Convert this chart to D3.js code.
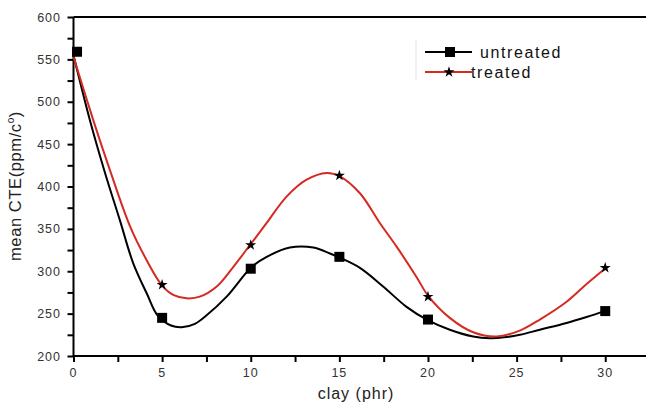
<!DOCTYPE html>
<html>
<head>
<meta charset="utf-8">
<script src="https://cdn.jsdelivr.net/npm/d3@7"></script>
<style>
  body { margin: 0; background: #fff; }
  text { font-family: "Liberation Sans", Arial, sans-serif; }
</style>
</head>
<body>
<div id="chart"></div>
<script>
// curve points (clay phr, mean CTE)
const untreatedCurveX = [0, 0.93, 1.78, 2.62, 3.36, 4.13, 4.77, 5.5, 6.10, 6.85, 7.51, 8.64, 10.05, 10.9, 12.21, 13.53, 14.47, 15.03, 16.16, 17.47, 18.79, 20.01, 21.23, 22.55, 23.49, 24.3, 25.18, 26.31, 27.82, 28.95, 29.98];
const untreatedCurveY = [555, 478, 416, 360, 310, 274, 247, 236, 234, 238, 248, 270, 305, 317, 328, 328, 321, 316, 304, 282, 258, 242, 231, 223, 221, 222, 225, 231, 239, 246, 253];
const treatedCurveX = [0, 1.12, 2.06, 3.19, 4.13, 4.97, 5.63, 6.38, 7.13, 8.08, 9.01, 9.96, 10.9, 12.02, 13.15, 14.28, 15.03, 16.16, 17.28, 18.23, 19.36, 20.01, 21.23, 22.55, 23.87, 25.18, 26.31, 27.82, 28.95, 29.98];
const treatedCurveY = [553, 478, 419, 353, 313, 284, 272, 268, 270, 282, 305, 331, 357, 388, 408, 416, 412, 392, 357, 329, 293, 271, 245, 228, 223, 230, 243, 264, 285, 303];

// marker positions
const untreatedX = [0.2, 5, 10, 15, 20, 30];
const untreatedY = [559, 245, 303, 317, 243, 253];
const treatedX = [5, 10, 15, 20, 30];
const treatedY = [284, 331, 413, 270, 304];

const xTicks = [0, 5, 10, 15, 20, 25, 30];
const yTicks = [200, 250, 300, 350, 400, 450, 500, 550, 600];

const svgWidth = 646;
const svgHeight = 405;
const redColor = "#d42a22";

const svg = d3.select("#chart")
    .append("svg")
    .attr("width", svgWidth)
    .attr("height", svgHeight);

const x = d3.scaleLinear().domain([0, 32.3]).range([73.5, 646]);
const y = d3.scaleLinear().domain([200, 600]).range([356, 17]);

// top border
svg.append("line")
    .attr("x1", x(0)).attr("x2", svgWidth)
    .attr("y1", y(600)).attr("y2", y(600))
    .attr("stroke", "#000").attr("stroke-width", 2);

// x axis with minor ticks
const xAxis = svg.append("g")
    .attr("transform", `translate(0, ${y(200)})`)
    .call(d3.axisBottom(x).tickValues(d3.range(0, 32.6, 2.5)).tickSize(6).tickFormat(""));
xAxis.select(".domain").attr("stroke-width", 2).attr("d", `M${x(0)},0H${svgWidth}`);
xAxis.selectAll(".tick line").attr("stroke-width", 2);
svg.append("g").selectAll("text")
    .data(xTicks)
    .enter()
    .append("text")
    .attr("x", d => x(d))
    .attr("y", 377)
    .attr("text-anchor", "middle")
    .attr("font-size", 12.5)
    .attr("letter-spacing", 1)
    .attr("fill", "#333")
    .text(d => d);

// y axis with minor ticks
const yAxis = svg.append("g")
    .attr("transform", `translate(${x(0)}, 0)`)
    .call(d3.axisLeft(y).tickValues(d3.range(200, 601, 25)).tickSize(6).tickFormat(""));
yAxis.select(".domain").attr("stroke-width", 2).attr("d", `M0,${y(600)}V${y(200)}`);
yAxis.selectAll(".tick line").attr("stroke-width", 2);
svg.append("g").selectAll("text")
    .data(yTicks)
    .enter()
    .append("text")
    .attr("x", 61)
    .attr("y", d => y(d) + 4.5)
    .attr("text-anchor", "end")
    .attr("font-size", 12.5)
    .attr("letter-spacing", 1)
    .attr("fill", "#333")
    .text(d => d);

// axis titles
svg.append("text")
    .attr("x", 356)
    .attr("y", 399)
    .attr("text-anchor", "middle")
    .attr("font-size", 16)
    .attr("letter-spacing", 1)
    .attr("fill", "#222")
    .text("clay (phr)");

const yTitle = svg.append("text")
    .attr("transform", `translate(21, 186) rotate(-90)`)
    .attr("text-anchor", "middle")
    .attr("font-size", 16.5)
    .attr("letter-spacing", 0.6)
    .attr("fill", "#222");
yTitle.append("tspan").text("mean CTE(ppm/c");
yTitle.append("tspan").attr("dy", -7).attr("font-size", 10).text("o");
yTitle.append("tspan").attr("dy", 7).text(")");

// curves
const line = d3.line()
    .x(d => x(d[0]))
    .y(d => y(d[1]))
    .curve(d3.curveCatmullRom);

svg.append("path")
    .datum(untreatedCurveX.map((d, i) => [d, untreatedCurveY[i]]))
    .attr("d", line)
    .attr("fill", "none")
    .attr("stroke", "#000")
    .attr("stroke-width", 2);

svg.append("path")
    .datum(treatedCurveX.map((d, i) => [d, treatedCurveY[i]]))
    .attr("d", line)
    .attr("fill", "none")
    .attr("stroke", redColor)
    .attr("stroke-width", 2);

// markers
const star = d3.symbol().type(d3.symbolStar).size(38);
svg.append("g").selectAll("path")
    .data(treatedX.map((d, i) => [d, treatedY[i]]))
    .enter()
    .append("path")
    .attr("d", star)
    .attr("transform", d => `translate(${x(d[0])}, ${y(d[1])})`)
    .attr("fill", "#000");

svg.append("g").selectAll("rect")
    .data(untreatedX.map((d, i) => [d, untreatedY[i]]))
    .enter()
    .append("rect")
    .attr("x", d => x(d[0]) - 5)
    .attr("y", d => y(d[1]) - 5)
    .attr("width", 10)
    .attr("height", 10)
    .attr("fill", "#000");

// legend
const legend = svg.append("g");
legend.append("line")
    .attr("x1", 416).attr("x2", 416)
    .attr("y1", 40).attr("y2", 80)
    .attr("stroke", "#e2e2e2");
legend.append("line")
    .attr("x1", 425).attr("x2", 472)
    .attr("y1", 52).attr("y2", 52)
    .attr("stroke", "#000").attr("stroke-width", 2);
legend.append("rect")
    .attr("x", 445).attr("y", 47)
    .attr("width", 10).attr("height", 10)
    .attr("fill", "#000");
legend.append("text")
    .attr("x", 480).attr("y", 57.5)
    .attr("font-size", 16)
    .attr("letter-spacing", 1.6)
    .attr("fill", "#111")
    .text("untreated");
legend.append("line")
    .attr("x1", 425).attr("x2", 472)
    .attr("y1", 72).attr("y2", 72)
    .attr("stroke", redColor).attr("stroke-width", 2);
legend.append("path")
    .attr("d", star)
    .attr("transform", "translate(449, 72)")
    .attr("fill", "#000");
legend.append("text")
    .attr("x", 471).attr("y", 77.5)
    .attr("font-size", 16)
    .attr("letter-spacing", 1.6)
    .attr("fill", "#111")
    .text("treated");
</script>
</body>
</html>
